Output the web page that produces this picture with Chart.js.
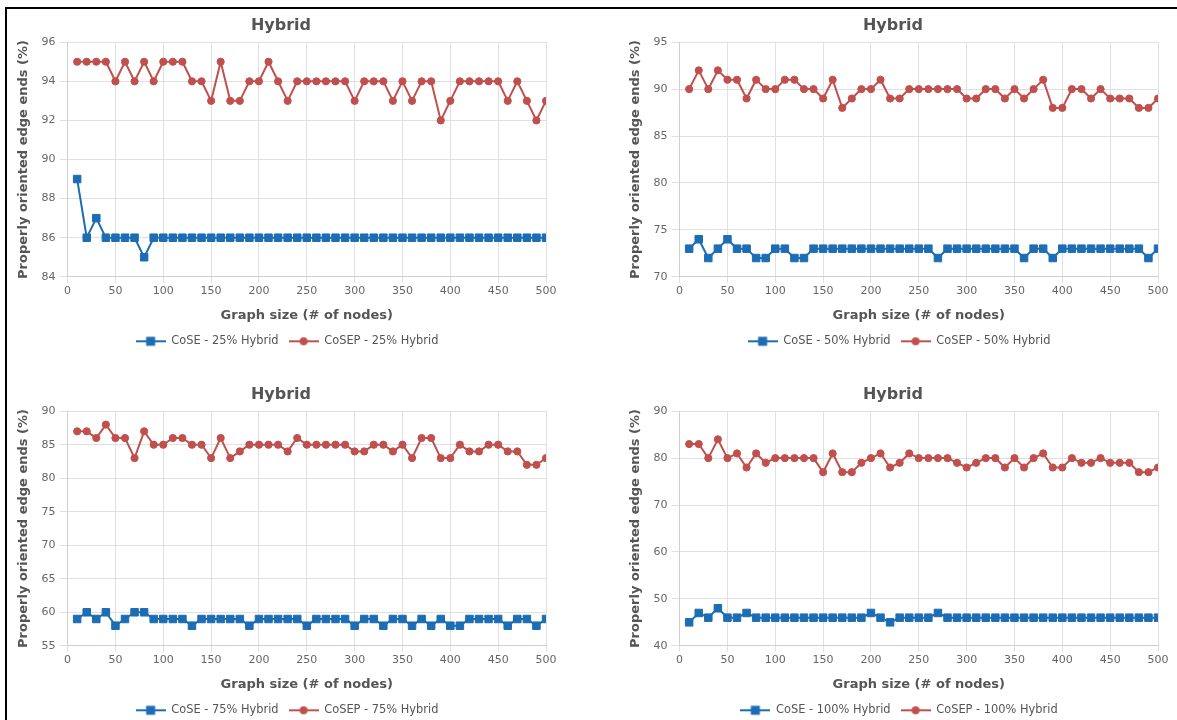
<!DOCTYPE html>
<html>
<head>
<meta charset="utf-8">
<script src="https://cdn.jsdelivr.net/npm/chart.js@4.4.1/dist/chart.umd.min.js"></script>
<style>
  html, body { margin: 0; padding: 0; background: #fff; overflow: hidden; width: 1177px; height: 720px; }
  #frame { position: absolute; left: 5px; top: 7px; width: 1220px; height: 760px; border: 2px solid #000; box-sizing: border-box; }
  canvas { position: absolute; }
</style>
</head>
<body>
<div id="frame"></div>
<canvas id="c1" width="582" height="350" style="left:8px;top:10px"></canvas>
<canvas id="c2" width="582" height="350" style="left:620px;top:10px"></canvas>
<canvas id="c3" width="582" height="350" style="left:8px;top:379px"></canvas>
<canvas id="c4" width="582" height="350" style="left:620px;top:379px"></canvas>
<script>
// Graph sizes (number of nodes)
const nodes = [10,20,30,40,50,60,70,80,90,100,110,120,130,140,150,160,170,180,190,200,
  210,220,230,240,250,260,270,280,290,300,310,320,330,340,350,360,370,380,390,400,
  410,420,430,440,450,460,470,480,490,500];

// Properly oriented edge ends (%) per hybrid ratio
const cose25  = [89,86,87,86,86,86,86,85,86,86, 86,86,86,86,86,86,86,86,86,86, 86,86,86,86,86,86,86,86,86,86, 86,86,86,86,86,86,86,86,86,86, 86,86,86,86,86,86,86,86,86,86];
const cosep25 = [95,95,95,95,94,95,94,95,94,95, 95,95,94,94,93,95,93,93,94,94, 95,94,93,94,94,94,94,94,94,93, 94,94,94,93,94,93,94,94,92,93, 94,94,94,94,94,93,94,93,92,93];

const cose50  = [73,74,72,73,74,73,73,72,72,73, 73,72,72,73,73,73,73,73,73,73, 73,73,73,73,73,73,72,73,73,73, 73,73,73,73,73,72,73,73,72,73, 73,73,73,73,73,73,73,73,72,73];
const cosep50 = [90,92,90,92,91,91,89,91,90,90, 91,91,90,90,89,91,88,89,90,90, 91,89,89,90,90,90,90,90,90,89, 89,90,90,89,90,89,90,91,88,88, 90,90,89,90,89,89,89,88,88,89];

const cose75  = [59,60,59,60,58,59,60,60,59,59, 59,59,58,59,59,59,59,59,58,59, 59,59,59,59,58,59,59,59,59,58, 59,59,58,59,59,58,59,58,59,58, 58,59,59,59,59,58,59,59,58,59];
const cosep75 = [87,87,86,88,86,86,83,87,85,85, 86,86,85,85,83,86,83,84,85,85, 85,85,84,86,85,85,85,85,85,84, 84,85,85,84,85,83,86,86,83,83, 85,84,84,85,85,84,84,82,82,83];

const cose100  = [45,47,46,48,46,46,47,46,46,46, 46,46,46,46,46,46,46,46,46,47, 46,45,46,46,46,46,47,46,46,46, 46,46,46,46,46,46,46,46,46,46, 46,46,46,46,46,46,46,46,46,46];
const cosep100 = [83,83,80,84,80,81,78,81,79,80, 80,80,80,80,77,81,77,77,79,80, 81,78,79,81,80,80,80,80,79,78, 79,80,80,78,80,78,80,81,78,78, 80,79,79,80,79,79,79,77,77,78];

// Axis ranges for each panel: [min, max, step]
const yRange25  = [84, 96, 2];
const yRange50  = [70, 95, 5];
const yRange75  = [55, 90, 5];
const yRange100 = [40, 90, 10];

const BLUE = '#1c6db3';
const RED = '#c0504d';
const FONT = "'DejaVu Sans', 'Open Sans', sans-serif";

// Small swatch (line + marker) used as the legend symbol
function swatch(color, shape) {
  const c = document.createElement('canvas');
  c.width = 30; c.height = 12;
  const g = c.getContext('2d');
  g.strokeStyle = color; g.lineWidth = 2;
  g.beginPath(); g.moveTo(0, 6); g.lineTo(30, 6); g.stroke();
  g.fillStyle = color;
  if (shape === 'rect') { g.fillRect(10.5, 1.5, 9, 9); }
  else { g.beginPath(); g.arc(15, 6, 4, 0, Math.PI * 2); g.fill(); }
  return c;
}
const blueSwatch = swatch(BLUE, 'rect');
const redSwatch = swatch(RED, 'circle');

// Shift the bottom legend slightly to the right of the default centre
const legendNudge = {
  id: 'legendNudge',
  afterLayout(chart) {
    chart.legend.left += 6;
    chart.legend.right += 6;
  }
};

function makeChart(id, cose, cosep, label, yr) {
  new Chart(document.getElementById(id), {
    type: 'line',
    data: {
      labels: nodes,
      datasets: [
        { label: 'CoSE - ' + label, data: cose, borderColor: BLUE, backgroundColor: BLUE,
          borderWidth: 2, pointStyle: 'rect', pointRadius: 5.3, pointHoverRadius: 5.3, pointBorderWidth: 1, tension: 0 },
        { label: 'CoSEP - ' + label, data: cosep, borderColor: RED, backgroundColor: RED,
          borderWidth: 2, pointStyle: 'circle', pointRadius: 3.6, pointHoverRadius: 3.6, pointBorderWidth: 1, tension: 0 }
      ]
    },
    plugins: [legendNudge],
    options: {
      responsive: false,
      animation: false,
      layout: { padding: { left: 8, right: 44, top: 6, bottom: 3 } },
      plugins: {
        title: { display: true, text: 'Hybrid', color: '#555', font: { family: FONT, size: 16, weight: 'bold' },
                 padding: { top: 0, bottom: 7 } },
        legend: {
          position: 'bottom',
          labels: {
            usePointStyle: true, pointStyleWidth: 30, color: '#555',
            font: { family: FONT, size: 11.4 }, padding: 10,
            generateLabels: (chart) => chart.data.datasets.map((ds, i) => ({
              text: ds.label, fontColor: '#555', pointStyle: i === 0 ? blueSwatch : redSwatch,
              fillStyle: ds.borderColor, strokeStyle: ds.borderColor, lineWidth: 0, hidden: false, datasetIndex: i
            }))
          }
        },
        tooltip: { enabled: false }
      },
      scales: {
        x: {
          type: 'linear', min: 0, max: 500,
          ticks: { stepSize: 50, color: '#666', font: { family: FONT, size: 11 }, padding: 2 },
          grid: { color: '#e0e0e0', tickLength: 6 },
          border: { color: '#cfcfcf' },
          title: { display: true, text: 'Graph size (# of nodes)', color: '#555',
                   font: { family: FONT, size: 13, weight: 'bold' }, padding: { top: 8, bottom: 2 } }
        },
        y: {
          min: yr[0], max: yr[1],
          ticks: { stepSize: yr[2], color: '#666', font: { family: FONT, size: 11 }, padding: 4 },
          grid: { color: '#e0e0e0', tickLength: 8 },
          border: { color: '#cfcfcf' },
          title: { display: true, text: 'Properly oriented edge ends (%)', color: '#555',
                   font: { family: FONT, size: 13, weight: 'bold' }, padding: { top: 0, bottom: 6 } }
        }
      }
    }
  });
}

makeChart('c1', cose25, cosep25, '25% Hybrid', yRange25);
makeChart('c2', cose50, cosep50, '50% Hybrid', yRange50);
makeChart('c3', cose75, cosep75, '75% Hybrid', yRange75);
makeChart('c4', cose100, cosep100, '100% Hybrid', yRange100);
</script>
</body>
</html>
